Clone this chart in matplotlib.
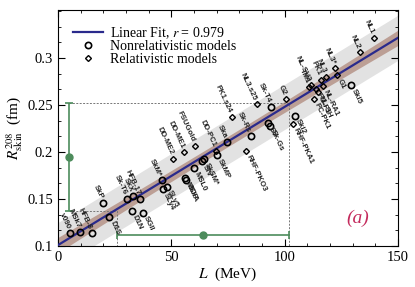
import numpy as np
import matplotlib
matplotlib.use("Agg")
import matplotlib.pyplot as plt
from matplotlib.ticker import MultipleLocator, AutoMinorLocator

# nonrelativistic models (open circles): name, L (MeV), R_skin (fm), label side
nonrel_names = ["v090", "MSk7", "HFB-8", "SkP", "D1S", "Sk-T6", "SkX", "HFB-17", "D1N", "SGII",
                "SkM*", "SLy5", "SLy4", "MSkA", "BCP", "MSL0", "SIV", "SkSM*", "SkMP", "Ska",
                "Sk-Rs", "Sk-T4", "SV", "Sk-Gs", "SkI2", "SkI5"]
nonrel_L = [5.3, 9.7, 14.8, 19.9, 22.6, 30.6, 33.2, 36.2, 32.5, 37.6,
            45.7, 48.2, 46.2, 56.0, 56.3, 60.0, 63.4, 64.4, 70.3, 74.7,
            85.0, 93.8, 92.8, 93.5, 104.5, 129.1]
nonrel_R = [0.1135, 0.1146, 0.1140, 0.1455, 0.1305, 0.1500, 0.1535, 0.1500, 0.1375, 0.1355,
            0.1700, 0.1630, 0.1603, 0.1720, 0.1698, 0.1825, 0.1900, 0.1925, 0.1968, 0.2110,
            0.2165, 0.2480, 0.2305, 0.2275, 0.2386, 0.2713]
nonrel_side = ["ul", "ul", "ul", "ul", "lr", "ul", "ul", "ul", "lr", "lr",
               "ul", "lr", "lr", "lr", "lr", "lr", "lr", "lr", "lr", "ul",
               "ul", "ul", "lr", "lr", "lr", "lr"]

# relativistic models (open diamonds)
rel_names = ["DD-ME2", "DD-ME1", "FSUGold", "DD-PC1", "PK1.s24", "RHF-PKO3", "NL3.s25", "G2",
             "RHF-PKA1", "NL-SV2", "TM1", "NL3", "PK1", "NL3*", "G1", "NL-RA1", "PC-F1",
             "NL-SH", "PC-PK1", "NL2", "NL1"]
rel_L = [50.9, 55.6, 60.4, 69.7, 76.6, 82.9, 87.6, 100.6,
         103.5, 111.4, 110.9, 118.2, 116.2, 122.3, 123.0, 116.8, 113.8,
         114.8, 112.9, 133.2, 139.4]
rel_R = [0.1926, 0.2000, 0.2064, 0.2010, 0.2370, 0.2010, 0.2507, 0.2564,
         0.2298, 0.2710, 0.2690, 0.2800, 0.2770, 0.2890, 0.2820, 0.2700, 0.2670,
         0.2640, 0.2565, 0.3060, 0.3216]
rel_side = ["ul", "ul", "ul", "ul", "ul", "lr", "ul", "ul",
            "lr", "ul", "ul", "ul", "ul", "ul", "lr", "lr", "lr",
            "lr", "lr", "ul", "ul"]

# linear fit R = a + b L
fit_a = 0.101
fit_b = 0.00147
fit_r = 0.979

# projected constraint (green bars)
skin_center, skin_lo, skin_hi = 0.1945, 0.137, 0.252
L_center, L_lo, L_hi = 64.0, 26.0, 102.0
bar_L = 5.0
bar_R = 0.112

navy = "#2a2a8c"
green = "#4d8c5c"

plt.rcParams["font.family"] = ["Liberation Serif", "DejaVu Serif"]
plt.rcParams["mathtext.fontset"] = "stix"

fig = plt.figure(figsize=(4.15, 2.87), dpi=100)
ax = fig.add_axes([0.140, 0.143, 0.819, 0.822])

Lgrid = np.linspace(0, 150, 301)
Rfit = fit_a + fit_b * Lgrid
pred_w = 0.024
conf_w = np.sqrt(0.0055 ** 2 + (0.00008 * (Lgrid - 75)) ** 2)
ax.fill_between(Lgrid, Rfit - pred_w, Rfit + pred_w, color="#e2e2e2", lw=0, zorder=1)
ax.fill_between(Lgrid, Rfit - conf_w, Rfit + conf_w, color="#bc9f95", lw=0, zorder=2)
line, = ax.plot(Lgrid, Rfit, color=navy, lw=1.6, zorder=3)

# dashed projection guides
ax.plot([bar_L, L_hi, L_hi], [skin_hi, skin_hi, 0.1], ls=(0, (2, 1.5)), color="#777777", lw=0.7, zorder=2.5)
ax.plot([bar_L, L_lo, L_lo], [skin_lo, skin_lo, 0.1], ls=(0, (2, 1.5)), color="#777777", lw=0.7, zorder=2.5)

# green error bars
ax.errorbar([bar_L], [skin_center], yerr=[[skin_center - skin_lo], [skin_hi - skin_center]],
            fmt="o", color=green, ms=5, capsize=3, elinewidth=1.2, capthick=1.2, zorder=4)
ax.errorbar([L_center], [bar_R], xerr=[[L_center - L_lo], [L_hi - L_center]],
            fmt="o", color=green, ms=5, capsize=3, elinewidth=1.2, capthick=1.2, zorder=4)

circ, = ax.plot(nonrel_L, nonrel_R, "o", mfc="none", mec="black", mew=1.2, ms=4.5, ls="none", zorder=5)
diam, = ax.plot(rel_L, rel_R, "D", mfc="none", mec="black", mew=1.0, ms=3.0, ls="none", zorder=5)


def put_labels(names, Ls, Rs, sides):
    for name, x, y, side in zip(names, Ls, Rs, sides):
        if side == "ul":
            off, ha = (-1.5, 3.0), "right"
        else:
            off, ha = (1.5, -3.0), "left"
        ax.annotate(name, (x, y), xytext=off, textcoords="offset points", rotation=-65,
                    rotation_mode="anchor", ha=ha, va="center", fontsize=5.6,
                    family="Liberation Sans", fontweight="bold", color="#222222", zorder=6)


put_labels(nonrel_names, nonrel_L, nonrel_R, nonrel_side)
put_labels(rel_names, rel_L, rel_R, rel_side)

ax.text(132, 0.129, "(a)", color="#c42a5c", fontsize=14, style="italic", ha="center", va="center")

ax.set_xlim(0, 150)
ax.set_ylim(0.1, 0.351)
ax.xaxis.set_major_locator(MultipleLocator(50))
ax.xaxis.set_minor_locator(MultipleLocator(10))
ax.yaxis.set_major_locator(MultipleLocator(0.05))
ax.yaxis.set_minor_locator(AutoMinorLocator(3))
ax.tick_params(which="both", direction="in", top=True, right=True, labelsize=10.5)
ax.tick_params(which="major", length=5)
ax.tick_params(which="minor", length=2.5)
ax.set_yticks([0.1, 0.15, 0.2, 0.25, 0.3])
ax.set_yticklabels(["0.1", "0.15", "0.2", "0.25", "0.3"])
ax.set_xlabel("$L$  (MeV)", fontsize=11, labelpad=1)
ax.set_ylabel(r"$R_{\rm skin}^{208}$  (fm)", fontsize=11, labelpad=2)

ax.legend([line, circ, diam],
          [f"Linear Fit, $r$ = {fit_r}", "Nonrelativistic models", "Relativistic models"],
          loc="upper left", bbox_to_anchor=(0.045, 0.935), frameon=False, fontsize=10,
          handlelength=2.1, borderaxespad=0.0, borderpad=0.0, labelspacing=-0.05,
          handletextpad=0.55)

fig.savefig("out.png", dpi=100)
